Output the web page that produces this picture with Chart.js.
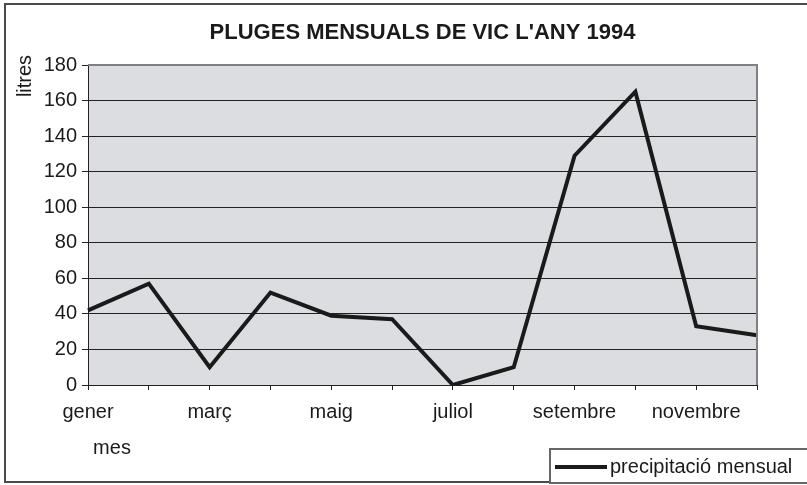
<!DOCTYPE html>
<html>
<head>
<meta charset="utf-8">
<title>Pluges mensuals de Vic 1994</title>
<script src="https://cdn.jsdelivr.net/npm/chart.js@4/dist/chart.umd.min.js"></script>
<style>
  html, body { margin: 0; padding: 0; background: #fff; }
  canvas { display: block; }
</style>
</head>
<body>
<canvas id="chart" width="807" height="485"></canvas>
<script>

// data
const months = ['gener', 'febrer', 'març', 'abril', 'maig', 'juny', 'juliol', 'agost', 'setembre', 'octubre', 'novembre', 'desembre'];
const rain = [42, 57, 10, 52, 39, 37, 0, 10, 129, 165, 33, 28];
const seriesName = 'precipitació mensual';
const chartTitle = "PLUGES MENSUALS DE VIC L'ANY 1994";
const yTitle = 'litres';
const xTitle = 'mes';

const yMin = 0;
const yMax = 180;
const yStep = 20;

const fontFamily = "'Liberation Sans', Arial, sans-serif";
const textColor = '#1a1a1a';
const lineColor = '#1a1a1a';

// background of the plot, border, axis titles and the legend box
const excelLook = {
  id: 'excelLook',

  beforeDraw(chart) {
    const ctx = chart.ctx;
    const a = chart.chartArea;
    ctx.save();
    ctx.fillStyle = '#fff';
    ctx.fillRect(0, 0, chart.width, chart.height);
    ctx.fillStyle = '#dcdde0';
    ctx.fillRect(a.left, a.top, a.right - a.left, a.bottom - a.top);
    ctx.restore();
  },

  afterDraw(chart) {
    const ctx = chart.ctx;
    const a = chart.chartArea;
    ctx.save();

    // plot area frame (top and right)
    ctx.strokeStyle = '#808080';
    ctx.lineWidth = 2;
    ctx.beginPath();
    ctx.moveTo(a.left, a.top);
    ctx.lineTo(a.right, a.top);
    ctx.lineTo(a.right, a.bottom);
    ctx.stroke();

    // outer chart frame
    ctx.strokeStyle = '#4a4a4a';
    ctx.lineWidth = 2;
    ctx.strokeRect(5, 4, chart.width + 10, 478);

    // axis titles
    ctx.fillStyle = textColor;
    ctx.font = `20px ${fontFamily}`;
    ctx.textAlign = 'center';
    ctx.textBaseline = 'middle';
    ctx.fillText(xTitle, 112, 448);

    ctx.save();
    ctx.translate(25, 76);
    ctx.rotate(-Math.PI / 2);
    ctx.fillText(yTitle, 0, 0);
    ctx.restore();

    // legend
    const lx = 550, ly = 449;
    ctx.fillStyle = '#fff';
    ctx.fillRect(lx, ly, chart.width - lx + 5, 34);
    ctx.strokeStyle = '#666';
    ctx.lineWidth = 2;
    ctx.strokeRect(lx, ly, chart.width - lx + 10, 34);

    ctx.strokeStyle = lineColor;
    ctx.lineWidth = 4;
    ctx.beginPath();
    ctx.moveTo(lx + 5, 467);
    ctx.lineTo(lx + 57, 467);
    ctx.stroke();

    ctx.fillStyle = textColor;
    ctx.textAlign = 'left';
    ctx.fillText(chart.data.datasets[0].label, lx + 60, 467);

    ctx.restore();
  }
};

const chart = new Chart(document.getElementById('chart'), {
  type: 'line',
  data: {
    labels: months,
    datasets: [{
      label: seriesName,
      data: rain,
      borderColor: lineColor,
      borderWidth: 4,
      borderJoinStyle: 'miter',
      pointRadius: 0,
      tension: 0,
      fill: false
    }]
  },
  options: {
    responsive: false,
    animation: false,
    layout: {
      padding: { left: 0, right: 50, top: 0, bottom: 0 }
    },
    plugins: {
      legend: { display: false },
      tooltip: { enabled: false },
      title: {
        display: true,
        text: chartTitle,
        fullSize: false,
        color: textColor,
        font: { family: fontFamily, size: 22, weight: 'bold', lineHeight: 1.2 },
        padding: { top: 20, bottom: 18.6 }
      }
    },
    scales: {
      x: {
        type: 'category',
        offset: false,
        grid: {
          display: true,
          drawOnChartArea: false,
          drawTicks: true,
          tickLength: 5,
          color: '#222'
        },
        border: { display: true, color: '#222', width: 1 },
        ticks: {
          autoSkip: false,
          maxRotation: 0,
          padding: 10,
          color: textColor,
          font: { family: fontFamily, size: 20 },
          callback: (v, i) => (i % 2 === 0 ? months[i] : '')
        },
        afterFit: s => { s.height = 100; }
      },
      y: {
        min: yMin,
        max: yMax,
        grid: {
          color: '#222',
          drawTicks: true,
          tickLength: 6
        },
        border: { display: true, color: '#222', width: 1 },
        ticks: {
          stepSize: yStep,
          padding: 5,
          color: textColor,
          font: { family: fontFamily, size: 20 }
        },
        afterFit: s => { s.width = 88; }
      }
    }
  },
  plugins: [excelLook]
});

</script>
</body>
</html>
